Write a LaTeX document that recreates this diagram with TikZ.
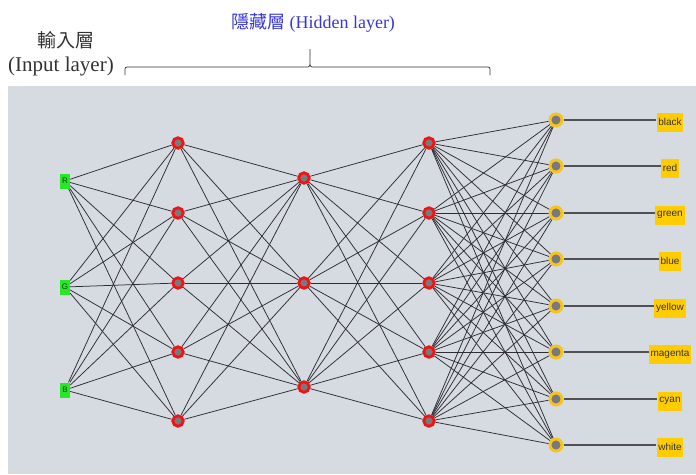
\documentclass[tikz,border=0pt]{standalone}
\usepackage{fontspec}
\setmainfont{Liberation Serif}
\newfontfamily\labelfont{Liberation Sans}
\newfontfamily\cjkfont{Noto Sans CJK TC}
\pgfdeclarelayer{panel}
\pgfdeclarelayer{wires}
\pgfsetlayers{panel,wires,main}
\definecolor{panelgray}{RGB}{214,218,225}
\definecolor{wire}{RGB}{45,45,50}
\definecolor{outwire}{RGB}{80,80,85}
\definecolor{ingreen}{RGB}{40,230,40}
\definecolor{hidred}{RGB}{238,20,20}
\definecolor{outgold}{RGB}{246,196,30}
\definecolor{tagyellow}{RGB}{255,204,0}
\definecolor{nodegray}{RGB}{120,120,125}
\definecolor{hiddenblue}{RGB}{55,55,215}
\definecolor{headgray}{RGB}{50,50,50}
\tikzset{
  inbox/.style={rectangle, fill=ingreen, minimum width=10pt, minimum height=15pt,
    inner sep=0pt, font=\labelfont\fontsize{8}{8}\selectfont, text=black!70!green},
  hidnode/.style={circle, fill=nodegray, draw=hidred, line width=2.8pt,
    minimum size=10.5pt, inner sep=0pt},
  outnode/.style={circle, fill=nodegray, draw=outgold, line width=3pt,
    minimum size=12pt, inner sep=0pt},
  tag/.style={rectangle, fill=tagyellow, inner xsep=1.8pt, inner ysep=0pt,
    minimum height=19pt, font=\labelfont\fontsize{10}{10}\selectfont, text=black!80},
  link/.style={draw=wire, line width=0.75pt},
  taglink/.style={draw=outwire, line width=1.3pt},
}
\begin{document}
\begin{tikzpicture}[x=1pt, y=-1pt]
\useasboundingbox (0,0) rectangle (696,474);

% grey panel behind the network
\begin{pgfonlayer}{panel}
  \fill[panelgray] (8,86) rectangle (696,474);
\end{pgfonlayer}

% headings and brace
\node[text=hiddenblue, font=\fontsize{18}{18}\selectfont] (hidtitle) at (313,23)
  {{\cjkfont 隱藏層} (Hidden layer)};
\node[text=headgray, font=\cjkfont\fontsize{19}{19}\selectfont] (inzh) at (66,40) {輸入層};
\node[text=headgray, font=\fontsize{21}{21}\selectfont] (inen) at (61,66) {(Input layer)};
\draw[headgray, line width=0.7pt]
  (125,75) -- (125,69) to[out=90,in=180] (127,67) -- (308,67)
  to[out=0,in=-90] (310,64) -- (310,49)
  (310,64) to[out=-90,in=180] (312,67) -- (488,67)
  to[out=0,in=90] (490,69) -- (490,75);

% input layer
\node[inbox] (i1) at (65,181) {R};
\node[inbox] (i2) at (65,287) {G};
\node[inbox] (i3) at (65,390) {B};

% first hidden layer
\foreach \k/\y in {1/143,2/213,3/283,4/352,5/421}
  \node[hidnode] (a\k) at (178,\y) {};
% second hidden layer
\foreach \k/\y in {1/178,2/283,3/387}
  \node[hidnode] (b\k) at (304,\y) {};
% third hidden layer
\foreach \k/\y in {1/143,2/213,3/283,4/352,5/421}
  \node[hidnode] (c\k) at (429,\y) {};

% output layer and colour tags
\foreach \k/\y/\name in {1/120/black,2/166/red,3/213/green,4/259/blue,
                         5/306/yellow,6/352/magenta,7/399/cyan,8/445/white}{
  \node[outnode] (o\k) at (556,\y) {};
  \node[tag] (t\k) at (670,\y+2) {\name};
}

% connections, fully linked between consecutive layers
\begin{pgfonlayer}{wires}
  \foreach \i in {1,2,3}
    \foreach \j in {1,...,5}
      \draw[link] (i\i) -- (a\j);
  \foreach \i in {1,...,5}
    \foreach \j in {1,2,3}
      \draw[link] (a\i) -- (b\j);
  \foreach \i in {1,2,3}
    \foreach \j in {1,...,5}
      \draw[link] (b\i) -- (c\j);
  \foreach \i in {1,...,5}
    \foreach \j in {1,...,8}
      \draw[link] (c\i) -- (o\j);
  \foreach \k in {1,...,8}
    \draw[taglink] (o\k) -- (t\k.west |- o\k);
\end{pgfonlayer}
\end{tikzpicture}
\end{document}
